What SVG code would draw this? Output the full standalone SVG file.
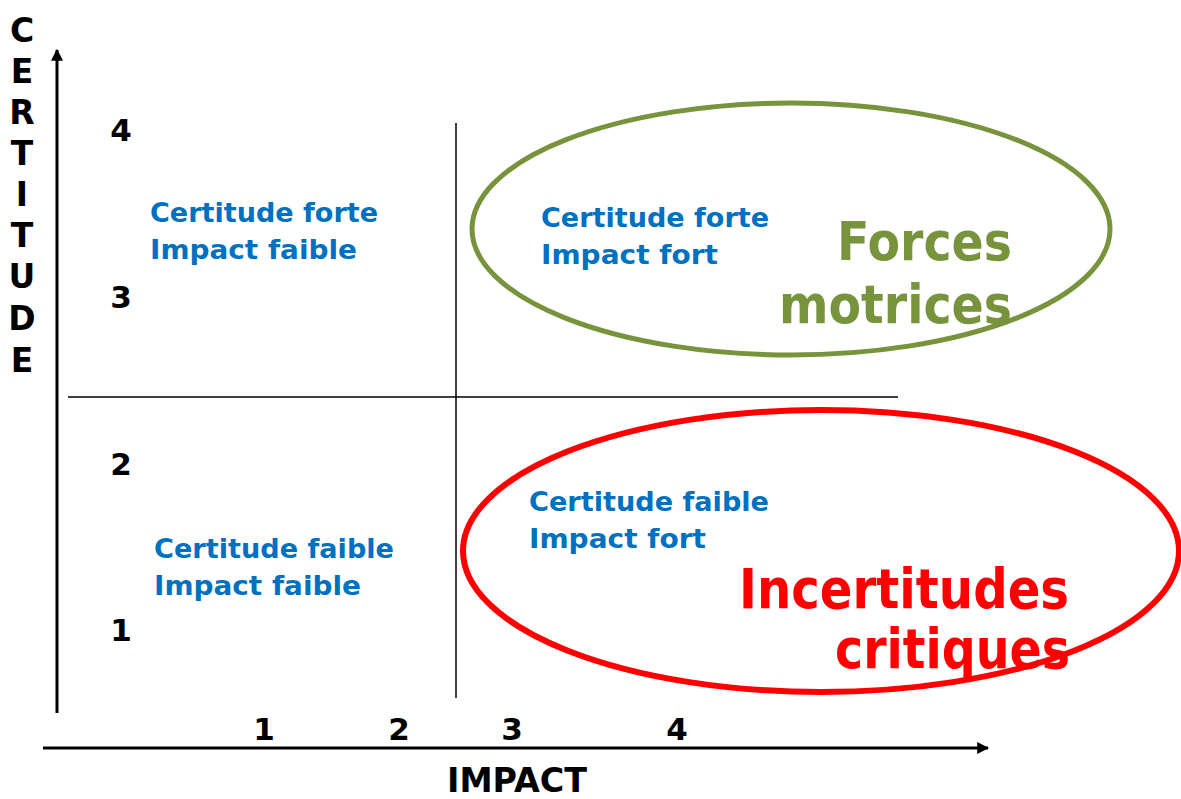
<svg xmlns="http://www.w3.org/2000/svg" width="1181" height="799" viewBox="0 0 1181 799">
<defs>
<marker id="arr" viewBox="0 0 10 10" refX="9" refY="5" markerWidth="4" markerHeight="4" orient="auto" markerUnits="strokeWidth">
<path d="M0,0 L10,5 L0,10 z" fill="#000"/>
</marker>
</defs>
<style>
text{font-family:"DejaVu Sans","Liberation Sans",sans-serif;font-weight:bold}
.num{font-size:31px;fill:#000;text-anchor:middle}
.ax{font-size:33px;fill:#000;text-anchor:middle}
.lbl{font-size:26px;fill:#0070C0}
.axis{stroke:#000;stroke-width:3;fill:none}
.div{stroke:#000;stroke-width:1.5;fill:none}
</style>
<rect width="1181" height="799" fill="#fff"/>
<g id="connectors">
<line class="axis" x1="57" y1="713" x2="57" y2="50" marker-end="url(#arr)"/>
<line class="axis" x1="43" y1="748" x2="988" y2="748" marker-end="url(#arr)"/>
<line class="div" x1="68" y1="397" x2="898" y2="397"/>
<line class="div" x1="456" y1="123" x2="456" y2="698"/>
</g>
<g id="y-axis-label">
<text class="ax" x="22" y="42">C</text>
<text class="ax" x="22" y="83">E</text>
<text class="ax" x="22" y="124">R</text>
<text class="ax" x="22" y="165">T</text>
<text class="ax" x="22" y="206">I</text>
<text class="ax" x="22" y="247">T</text>
<text class="ax" x="22" y="288">U</text>
<text class="ax" x="22" y="330">D</text>
<text class="ax" x="22" y="372">E</text>
</g>
<g id="x-axis-label">
<text class="ax" x="517" y="792" font-size="30" textLength="140" lengthAdjust="spacingAndGlyphs">IMPACT</text>
</g>
<g id="y-ticks">
<text class="num" x="121" y="141">4</text>
<text class="num" x="121" y="308">3</text>
<text class="num" x="121" y="475">2</text>
<text class="num" x="121" y="641">1</text>
</g>
<g id="x-ticks">
<text class="num" x="264" y="740">1</text>
<text class="num" x="399" y="740">2</text>
<text class="num" x="512" y="740">3</text>
<text class="num" x="677" y="740">4</text>
</g>
<g id="q-top-left">
<text class="lbl" x="150" y="222" textLength="228" lengthAdjust="spacingAndGlyphs">Certitude forte</text>
<text class="lbl" x="150" y="259" textLength="207" lengthAdjust="spacingAndGlyphs">Impact faible</text>
</g>
<g id="q-bottom-left">
<text class="lbl" x="154" y="558" textLength="240" lengthAdjust="spacingAndGlyphs">Certitude faible</text>
<text class="lbl" x="154" y="595" textLength="207" lengthAdjust="spacingAndGlyphs">Impact faible</text>
</g>
<g id="forces-motrices">
<ellipse cx="791" cy="229" rx="319" ry="126" fill="none" stroke="#77933C" stroke-width="5"/>
<text class="lbl" x="541" y="227" textLength="228" lengthAdjust="spacingAndGlyphs">Certitude forte</text>
<text class="lbl" x="541" y="264" textLength="177" lengthAdjust="spacingAndGlyphs">Impact fort</text>
<text x="837" y="260" font-size="54" fill="#77933C" textLength="175" lengthAdjust="spacingAndGlyphs">Forces</text>
<text x="779" y="323" font-size="54" fill="#77933C" textLength="233" lengthAdjust="spacingAndGlyphs">motrices</text>
</g>
<g id="incertitudes-critiques">
<ellipse cx="821" cy="551" rx="358" ry="141" fill="none" stroke="#FF0000" stroke-width="6"/>
<text class="lbl" x="529" y="511" textLength="240" lengthAdjust="spacingAndGlyphs">Certitude faible</text>
<text class="lbl" x="529" y="548" textLength="177" lengthAdjust="spacingAndGlyphs">Impact fort</text>
<text x="739" y="608" font-size="55" fill="#FF0000" textLength="330" lengthAdjust="spacingAndGlyphs">Incertitudes</text>
<text x="835" y="668" font-size="55" fill="#FF0000" textLength="235" lengthAdjust="spacingAndGlyphs">critiques</text>
</g>
</svg>
